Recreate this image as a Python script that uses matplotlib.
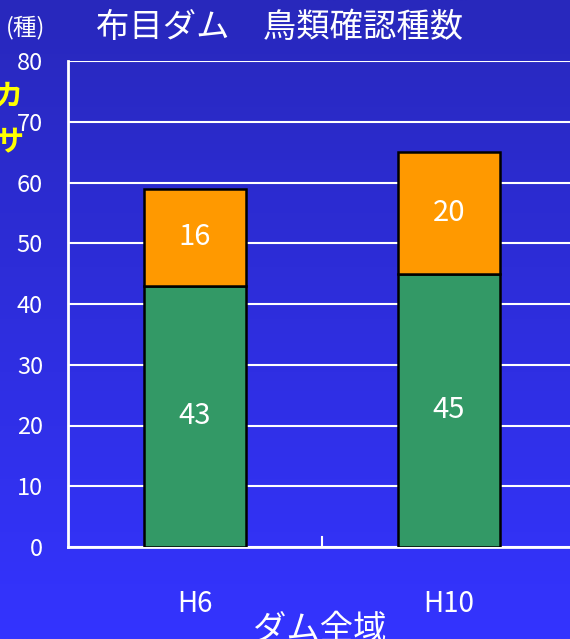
import numpy as np
import matplotlib
matplotlib.use("Agg")
import matplotlib.pyplot as plt
from matplotlib.colors import LinearSegmentedColormap

plt.rcParams['font.family'] = ['Noto Sans CJK JP', 'DejaVu Sans']

categories = ["H6", "H10"]
green_vals = [43, 45]
orange_vals = [16, 20]
yticks = [0, 10, 20, 30, 40, 50, 60, 70, 80]

W, H = 570, 639
fig = plt.figure(figsize=(W / 100, H / 100), dpi=100)

# background gradient
bg = fig.add_axes([0, 0, 1, 1], zorder=-10)
cmap = LinearSegmentedColormap.from_list("bg", ["#2828bc", "#3434ff"])
grad = np.linspace(0, 1, 256).reshape(-1, 1)
bg.imshow(grad, aspect="auto", cmap=cmap, extent=[0, 1, 1, 0])
bg.set_axis_off()

ax = fig.add_axes([68 / W, 1 - 547 / H, 508 / W, 486 / H])
ax.patch.set_alpha(0)
x = np.arange(len(categories))
bw = 0.4
ax.bar(x, green_vals, width=bw, color="#339966", edgecolor="black", linewidth=1.8, zorder=3)
ax.bar(x, orange_vals, bottom=green_vals, width=bw, color="#ff9900", edgecolor="black", linewidth=1.8, zorder=3)

for xi, g, o in zip(x, green_vals, orange_vals):
    ax.text(xi, g / 2, str(g), ha="center", va="center", color="white", fontsize=21, zorder=4)
    ax.text(xi, g + o / 2, str(o), ha="center", va="center", color="white", fontsize=21, zorder=4)

ax.set_xlim(-0.5, 1.5)
ax.set_ylim(0, 80)
ax.set_yticks(yticks)
ax.set_yticklabels([str(v) for v in yticks], color="white", fontsize=17)
ax.tick_params(axis="y", length=0, pad=18)
ax.yaxis.grid(True, color="white", linewidth=1.5, zorder=1)
ax.set_axisbelow(True)

ax.set_xticks(x)
ax.set_xticklabels(categories, color="white", fontsize=20)
ax.tick_params(axis="x", length=0, pad=30)
ax.axvline(0.5, ymin=0, ymax=10 / 486, color="white", linewidth=1.5)

for s in ["top", "right"]:
    ax.spines[s].set_visible(False)
for s in ["left", "bottom"]:
    ax.spines[s].set_color("white")
    ax.spines[s].set_linewidth(2)

fig.text(96 / W, 1 - 28 / H, "布目ダム　鳥類確認種数", color="white", fontsize=24, ha="left", va="center")
fig.text(6 / W, 1 - 28 / H, "(種)", color="white", fontsize=17, ha="left", va="center")
fig.text(320 / W, 1 - 630 / H, "ダム全域", color="white", fontsize=24, ha="center", va="center")
fig.text(-6 / W, 1 - 96 / H, "カ", color="#ffff00", fontsize=21, ha="left", va="center", fontweight="bold")
fig.text(-6 / W, 1 - 142 / H, "サ", color="#ffff00", fontsize=21, ha="left", va="center", fontweight="bold")

fig.savefig("out.png", dpi=100)
